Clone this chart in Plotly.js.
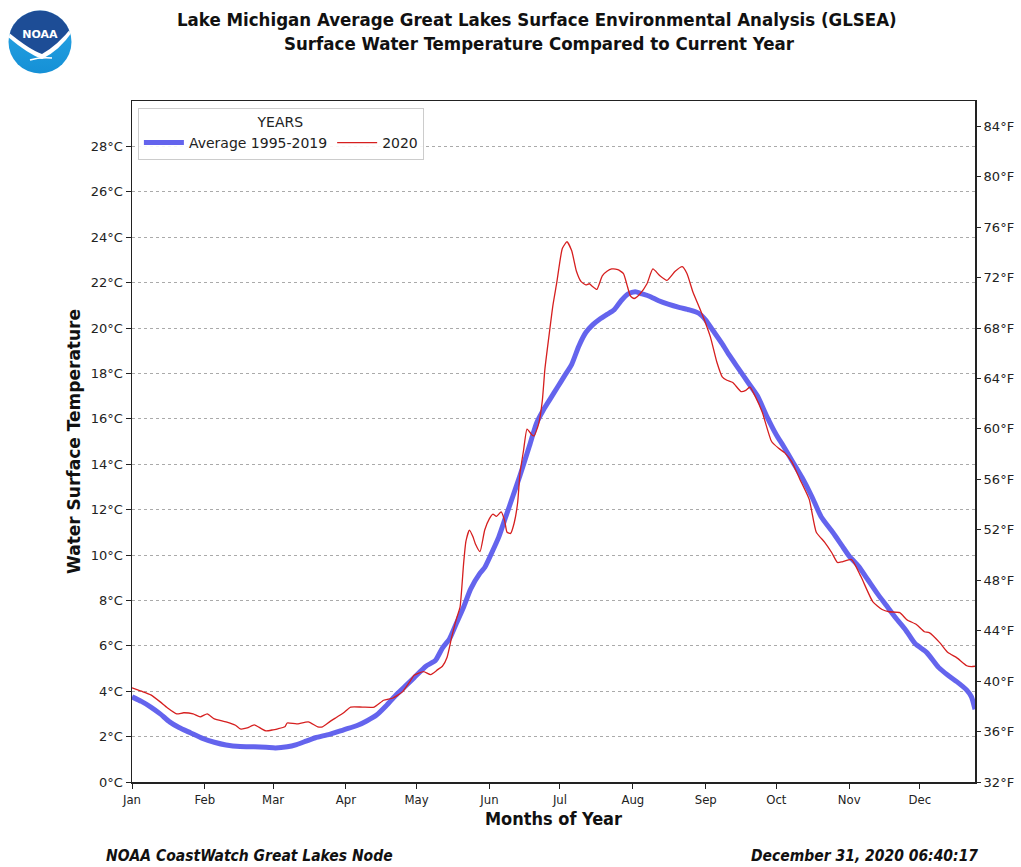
<!DOCTYPE html>
<html>
<head>
<meta charset="utf-8">
<script src="https://cdn.plot.ly/plotly-3.0.1.min.js"></script>
<style>
  html, body { margin: 0; padding: 0; background: #fff; }
  #chart { width: 1021px; height: 867px; }
</style>
</head>
<body>
<div id="chart"></div>
<script>
// Day of year (0 = Jan 1, 2020) and surface temperature in °C
const avgDay = [0,4,8,12,16,20,25,30,35,40,46,52,57,61,66,70,74,78,84,90,96,100,104,108,112,116,120,125,129,132,135,138,141,144,148,150,153,156,159,162,165,169,172,175,178,181,184,187,190,193,196,199,202,205,208,211,214,217,220,224,228,233,237,241,244,247,251,254,258,262,266,270,274,277,281,285,289,293,298,302,305,309,313,317,321,325,329,333,338,343,347,351,355,357,358.5];
const avgTemp = [3.75,3.55,3.3,3.0,2.65,2.4,2.16,1.92,1.75,1.63,1.56,1.55,1.53,1.5,1.55,1.65,1.8,1.95,2.1,2.3,2.5,2.7,2.95,3.35,3.8,4.2,4.6,5.1,5.35,5.9,6.3,7.0,7.7,8.5,9.2,9.45,10.1,10.8,11.7,12.6,13.5,14.8,15.8,16.4,16.9,17.4,17.9,18.4,19.2,19.8,20.15,20.4,20.6,20.8,21.2,21.5,21.6,21.5,21.4,21.2,21.05,20.9,20.8,20.65,20.35,19.9,19.3,18.8,18.2,17.6,17.0,16.1,15.3,14.8,14.1,13.4,12.6,11.7,11.0,10.4,9.95,9.5,8.9,8.3,7.75,7.2,6.7,6.1,5.7,5.05,4.7,4.4,4.05,3.75,3.2];

const day2020 = [0,4,8,12,15,19,22,26,29,32,35,40,44,46,49,52,55,57,60,62,65,66,70,75,79,81,84,87,90,93,98,103,107,111,115,118,120,124,127,130,132,134,136,138,139.5,141,142,143.5,145,146,148,150,152,153.5,155,157,158.5,159.5,161,162.5,164,165,166.5,168,170,171,173,174.5,175.6,177.7,179,180.7,183,185,187,189,191,193,194.5,195.6,197.7,200,202,204,206.6,209,210.5,212,213.5,216,219,221.5,224.5,227.5,231,234,236,238.5,241.5,243.6,246,248.7,251,253,255.5,259,261,262.8,265,268,272,275,277.6,280.6,284,288,291,294.6,297.6,300,302,306,310,315,319,322,326.5,329.5,333.7,337,339,343.5,347,350.7,355,357,358.5];
const temp2020 = [4.15,4.0,3.84,3.53,3.27,3.0,3.05,3.0,2.87,3.0,2.78,2.65,2.5,2.34,2.38,2.52,2.35,2.25,2.3,2.34,2.43,2.6,2.56,2.65,2.43,2.43,2.65,2.85,3.05,3.3,3.3,3.3,3.6,3.7,3.97,4.4,4.7,4.86,4.73,4.95,5.1,5.5,6.4,7.2,7.7,9.6,10.6,11.1,10.8,10.5,10.15,11.1,11.6,11.8,11.7,11.9,11.5,11.0,10.95,11.4,12.3,13.6,14.6,15.55,15.3,15.25,15.8,16.8,18.2,19.96,21.0,22.04,23.5,23.8,23.4,22.5,22.04,21.9,21.95,21.85,21.7,22.3,22.5,22.6,22.57,22.4,21.9,21.4,21.3,21.5,21.95,22.6,22.3,22.1,22.5,22.7,22.4,21.6,20.85,20.3,19.6,18.5,17.85,17.7,17.6,17.2,17.25,17.4,17.0,16.3,15.0,14.7,14.5,14.1,13.34,12.45,11.0,10.56,10.1,9.67,9.7,9.8,9.05,7.95,7.6,7.5,7.46,7.15,6.93,6.62,6.58,6.14,5.7,5.48,5.12,5.08,5.1];

// Month tick positions (leap year) and labels
const monthStart = [0,31,60,91,121,152,182,213,244,274,305,335];
const monthLabel = ['Jan','Feb','Mar','Apr','May','Jun','Jul','Aug','Sep','Oct','Nov','Dec'];

// Temperature ticks
const celsiusTicks = [0,2,4,6,8,10,12,14,16,18,20,22,24,26,28];
const fahrenheitTicks = [32,36,40,44,48,52,56,60,64,68,72,76,80,84];

const seriesNames = ['Average 1995-2019', '2020'];

// Simple NOAA emblem as inline SVG
const logoSvg =
  '<svg xmlns="http://www.w3.org/2000/svg" width="64" height="64" viewBox="0 0 64 64">' +
  '<defs><clipPath id="c"><circle cx="32" cy="32" r="31.5"/></clipPath>' +
  '<linearGradient id="g" x1="0" y1="0" x2="0" y2="1"><stop offset="0" stop-color="#2aa7e6"/><stop offset="1" stop-color="#1590d6"/></linearGradient></defs>' +
  '<g clip-path="url(#c)">' +
  '<rect width="64" height="64" fill="url(#g)"/>' +
  '<path d="M0,27 Q20,44 34,49 Q52,40 64,22 L64,0 L0,0 Z" fill="#ffffff"/>' +
  '<path d="M0,22 Q22,40 34,44 Q50,35 64,17 L64,0 L0,0 Z" fill="#1d4d96"/>' +
  '<path d="M22,50 Q32,47 44,48" stroke="#ffffff" stroke-width="1.6" fill="none"/>' +
  '</g>' +
  '<text x="32" y="28" text-anchor="middle" font-family="DejaVu Sans, sans-serif" font-weight="bold" font-size="11" fill="#ffffff">NOAA</text>' +
  '</svg>';

const W = 1021, H = 867;
const L = 132, R = 975, T = 101, B = 782;
const px = x => (x - L) / (R - L);
const py = y => (B - y) / (B - T);

const traces = [
  {
    x: avgDay, y: avgTemp, name: seriesNames[0], type: 'scatter', mode: 'lines',
    line: { color: 'rgba(92,92,236,0.95)', width: 5, shape: 'spline', smoothing: 0.6 }
  },
  {
    x: day2020, y: temp2020, name: seriesNames[1], type: 'scatter', mode: 'lines',
    line: { color: '#d61f1f', width: 1.3, shape: 'spline', smoothing: 0.5 }
  },
  {
    // invisible trace so the Fahrenheit axis is drawn
    x: [0], y: [32], yaxis: 'y2', showlegend: false, hoverinfo: 'skip',
    mode: 'markers', marker: { opacity: 0 }
  }
];

const tickFont = { family: 'DejaVu Sans, sans-serif', size: 13, color: '#222' };
const narrow = 'DejaVu Sans Condensed, Liberation Sans Narrow, sans-serif';

const layout = {
  width: W, height: H,
  paper_bgcolor: '#ffffff', plot_bgcolor: '#ffffff',
  margin: { l: L, r: W - R, t: T, b: H - B },
  showlegend: true,
  legend: {
    orientation: 'h', x: 0.007, y: 0.99, xanchor: 'left', yanchor: 'top',
    bgcolor: 'rgba(255,255,255,0.9)', bordercolor: '#cccccc', borderwidth: 1,
    font: { family: 'DejaVu Sans, sans-serif', size: 14, color: '#222' },
    title: { text: 'YEARS', side: 'top center', font: { family: 'DejaVu Sans, sans-serif', size: 14, color: '#222' } },
    itemwidth: 40, tracegroupgap: 0
  },
  xaxis: {
    range: [0, 358.5], tickmode: 'array', tickvals: monthStart, ticktext: monthLabel,
    showgrid: false, zeroline: false,
    showline: true, linecolor: '#222', linewidth: 1.5, mirror: true,
    ticks: 'outside', ticklen: 5, tickwidth: 1, tickcolor: '#222',
    tickfont: { family: narrow, size: 13, color: '#222' },
    title: { text: '<b>Months of Year</b>', standoff: 6,
             font: { family: narrow, size: 18, color: '#111' } }
  },
  yaxis: {
    range: [0, 30], tickmode: 'array', tickvals: celsiusTicks,
    ticktext: celsiusTicks.map(v => v + '°C'),
    showgrid: true, gridcolor: '#aaaaaa', griddash: 'dot', gridwidth: 1,
    zeroline: false,
    showline: true, linecolor: '#222', linewidth: 1.5, mirror: true,
    ticks: 'outside', ticklen: 5, tickwidth: 1, tickcolor: '#222',
    tickfont: tickFont,
    title: { text: '<b>Water Surface Temperature</b>', standoff: 6,
             font: { family: 'DejaVu Sans, sans-serif', size: 17, color: '#111' } }
  },
  yaxis2: {
    overlaying: 'y', side: 'right', range: [32, 86],
    tickmode: 'array', tickvals: fahrenheitTicks,
    ticktext: fahrenheitTicks.map(v => v + '°F'),
    showgrid: false, zeroline: false, showline: false,
    ticks: 'outside', ticklen: 5, tickwidth: 1, tickcolor: '#222',
    tickfont: tickFont
  },
  annotations: [
    { text: '<b>Lake Michigan Average Great Lakes Surface Environmental Analysis (GLSEA)</b>',
      xref: 'paper', yref: 'paper', x: px(537), y: py(20), xanchor: 'center', yanchor: 'middle',
      showarrow: false, font: { family: narrow, size: 18.5, color: '#111' } },
    { text: '<b>Surface Water Temperature Compared to Current Year</b>',
      xref: 'paper', yref: 'paper', x: px(539), y: py(43), xanchor: 'center', yanchor: 'middle',
      showarrow: false, font: { family: narrow, size: 18.5, color: '#111' } },
    { text: '<b><i>NOAA CoastWatch Great Lakes Node</i></b>',
      xref: 'paper', yref: 'paper', x: px(104), y: py(856), xanchor: 'left', yanchor: 'middle',
      showarrow: false, font: { family: narrow, size: 15.5, color: '#111' } },
    { text: '<b><i>December 31, 2020 06:40:17</i></b>',
      xref: 'paper', yref: 'paper', x: px(980), y: py(856), xanchor: 'right', yanchor: 'middle',
      showarrow: false, font: { family: narrow, size: 15.5, color: '#111' } }
  ],
  images: [
    { source: 'data:image/svg+xml;charset=utf-8,' + encodeURIComponent(logoSvg),
      xref: 'paper', yref: 'paper', x: px(8), y: py(10),
      sizex: 64 / (R - L), sizey: 64 / (B - T), xanchor: 'left', yanchor: 'top',
      sizing: 'stretch', layer: 'above' }
  ]
};

Plotly.newPlot('chart', traces, layout, { displayModeBar: false, staticPlot: true });
</script>
</body>
</html>
